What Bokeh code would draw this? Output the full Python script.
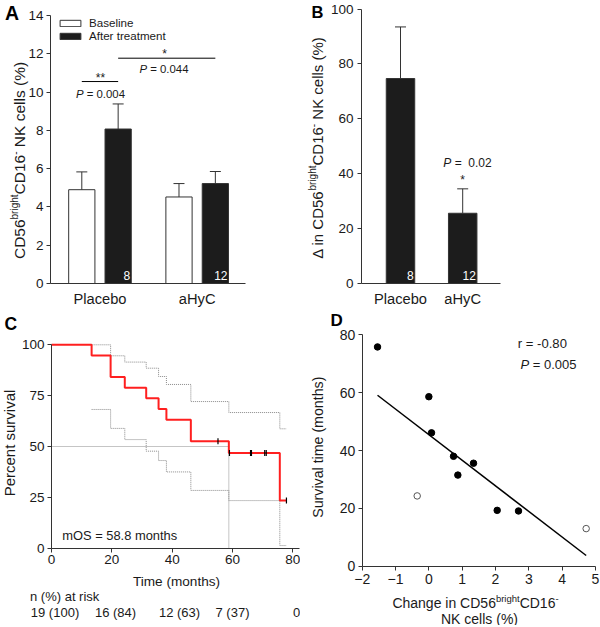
import numpy as np
from bokeh.plotting import figure
from bokeh.models import (Label, Legend, LegendItem, FixedTicker, Range1d, Whisker,
                          ColumnDataSource, TeeHead)
from bokeh.layouts import row, column
from bokeh.embed import file_html
from bokeh.resources import INLINE
from bokeh.core.properties import value

S = 1.0
FONT = "Liberation Sans"
TXT = "#1a1a1a"
AX = "#333333"

# ---------------- data ----------------
groups = ["Placebo", "aHyC"]
baseline_mean = [4.90, 4.52]
baseline_upper = [5.83, 5.22]
after_mean = [8.07, 5.22]
after_upper = [9.38, 5.85]
group_n = ["8", "12"]
y_ticks_a = [0, 2, 4, 6, 8, 10, 12, 14]
sig_levels_a = [10.55, 11.77]

delta_mean = [74.7, 25.6]
delta_upper = [93.5, 34.5]
y_ticks_b = [0, 20, 40, 60, 80, 100]

km_time = [0, 13.3, 19.6, 24.3, 31.4, 35.5, 38.1, 46.2, 58.8, 75.7, 77.8]
km_surv = [100, 94.7, 84.2, 78.9, 73.7, 68.4, 63.2, 52.6, 46.8, 23.4, 23.4]
ci_time = [13.3, 19.6, 24.3, 31.4, 35.5, 38.1, 46.2, 58.8, 75.7, 77.8]
ci_upper = [100, 94.6, 91.5, 88.5, 84.4, 80.5, 72.1, 66.7, 58.7, 58.7]
ci_lower = [68.2, 58.9, 53.4, 47.7, 43.1, 37.5, 28.4, 23.4, 1.3, 1.3]
censor_time = [55.2, 59.0, 66.0, 66.3, 70.7, 71.2, 77.9]
censor_surv = [52.6, 46.8, 46.8, 46.8, 46.8, 46.8, 23.4]
median_os = 58.8
x_ticks_c = [0, 20, 40, 60, 80]
y_ticks_c = [0, 25, 50, 75, 100]
risk_labels = ["19 (100)", "16 (84)", "12 (63)", "7 (37)", "0"]

chg_filled = [-1.54, 0.00, 0.08, 0.74, 0.87, 1.34, 2.05, 2.69]
surv_filled = [75.8, 58.6, 46.1, 38.0, 31.5, 35.6, 19.3, 19.1]
chg_open = [-0.35, 4.72]
surv_open = [24.3, 13.0]
fit_x = [-1.54, 4.72]
fit_y = [59.1, 3.7]
x_ticks_d = [-2, -1, 0, 1, 2, 3, 4, 5]
y_ticks_d = [0, 20, 40, 60, 80]

# ---------------- text helpers ----------------
_W = {' ': 278, '!': 278, '%': 889, '(': 333, ')': 333, '*': 389, '+': 584, ',': 278,
      '-': 333, '.': 278, '/': 278, ':': 278, '=': 584, 'Δ': 668}
for _c in "0123456789":
    _W[_c] = 556
_W.update(dict(zip("ABCDEFGHIJKLMNOPQRSTUVWXYZ",
                   [667, 667, 722, 722, 667, 611, 778, 722, 278, 500, 667, 556, 833,
                    722, 778, 667, 778, 722, 667, 611, 722, 667, 944, 667, 667, 611])))
_W.update(dict(zip("abcdefghijklmnopqrstuvwxyz",
                   [556, 556, 500, 556, 556, 278, 556, 556, 222, 222, 500, 222, 833,
                    556, 556, 556, 556, 333, 500, 278, 556, 500, 722, 500, 500, 500])))


def tw(s, size):
    return sum(_W.get(c, 556) for c in s) / 1000.0 * size


class Pan:
    """Figure box in page pixels."""
    def __init__(self, ox, oy, w, h):
        self.ox, self.oy, self.w, self.h = ox, oy, w, h


def xrange_for(pan, k, v_at, X_at):
    return Range1d(v_at + (pan.ox - X_at) / k, v_at + (pan.ox + pan.w - X_at) / k)


def yrange_for(pan, k, v_at, Y_at):
    return Range1d(v_at - (pan.oy + pan.h - Y_at) / k, v_at + (Y_at - pan.oy) / k)


def make_fig(pan, xr, yr):
    p = figure(width=round(pan.w * S), height=round(pan.h * S), x_range=xr, y_range=yr,
               output_backend="svg", toolbar_location=None,
               min_border_left=0, min_border_right=0, min_border_top=0, min_border_bottom=0)
    p.outline_line_color = None
    p.xgrid.visible = False
    p.ygrid.visible = False
    p.background_fill_color = "white"
    p.border_fill_color = "white"
    return p


def style_axis(ax, ticks, size, fixed, bounds, tick_out=4, standoff=3, overrides=None):
    ax.ticker = FixedTicker(ticks=ticks)
    ax.fixed_location = fixed
    ax.bounds = bounds
    ax.major_tick_out = round(tick_out * S)
    ax.major_tick_in = 0
    ax.minor_tick_out = 0
    ax.minor_tick_in = 0
    ax.axis_line_color = AX
    ax.axis_line_width = 1
    ax.major_tick_line_color = AX
    ax.major_label_text_font = FONT
    ax.major_label_text_font_size = f"{size * S:.1f}px"
    ax.major_label_text_color = TXT
    ax.major_label_standoff = round(standoff * S)
    if overrides is not None:
        ax.major_label_overrides = overrides


def lab(p, pan, X, Y, text, size, align="left", angle=0.0, style="normal", color=TXT):
    # (X, Y) is the visual centre line of the text (middle baseline)
    p.add_layout(Label(x=(X - pan.ox) * S, y=(pan.oy + pan.h - Y) * S,
                       x_units="screen", y_units="screen",
                       text=text, text_font=FONT, text_font_size=f"{size * S:.2f}px",
                       text_font_style=style, text_color=color, text_align=align,
                       text_baseline="middle", angle=angle))


def rich(p, pan, X, Y, parts, align="left", vertical=False):
    # parts: (text, size, style, raise); leading spaces become offsets
    M = max(sz for _, sz, _, _ in parts)
    total = sum(tw(t, sz) for t, sz, st, r in parts)
    off = {"left": 0.0, "center": -total / 2.0, "right": -total}[align]
    for t, sz, st, r in parts:
        body = t.lstrip(" ")
        lead = tw(t[:len(t) - len(body)], sz)
        pos = off + lead
        shift = -r + 0.355 * (M - sz)
        if vertical:
            lab(p, pan, X + shift, Y - pos, body, sz, angle=np.pi / 2, style=st)
        else:
            lab(p, pan, X + pos, Y + shift, body, sz, style=st)
        off += tw(t, sz)


TOP_H = 307
BOT_H = 318

# ================= Panel A =================
panA = Pan(0, 0, 300, TOP_H)
pA = make_fig(panA, xrange_for(panA, 97.2, 0.491, 50), yrange_for(panA, 268 / 14, 0, 283))
gx = np.arange(1, len(groups) + 1, dtype=float)
bw_a, off_a = 0.27, 0.187
xb = gx - off_a
xa = gx + off_a
r_base = pA.vbar(x=xb, top=baseline_mean, width=bw_a, fill_color="white",
                 line_color=AX, line_width=1)
r_after = pA.vbar(x=xa, top=after_mean, width=bw_a, fill_color="#1c1c1c",
                  line_color=AX, line_width=1)
for xs, m, u in ((xb, baseline_mean, baseline_upper), (xa, after_mean, after_upper)):
    src = ColumnDataSource(dict(x=xs, lower=m, upper=u))
    pA.add_layout(Whisker(base="x", lower="lower", upper="upper", source=src, dimension="height",
                          line_color=AX, line_width=1, level="overlay",
                          upper_head=TeeHead(size=11 * S, line_color=AX, line_width=1),
                          lower_head=None))
pA.text(x=xa + bw_a / 2, y=[0, 0], text=group_n, text_align="right", text_baseline="middle",
        x_offset=-1, y_offset=-8 * S, text_color="white", text_font=value(FONT),
        text_font_size=f"{12 * S:.1f}px")
pA.segment(x0=[xb[0], xa[0]], x1=[xa[0], xa[1]], y0=sig_levels_a, y1=sig_levels_a,
           line_color="black", line_width=1)
style_axis(pA.yaxis[0], y_ticks_a, 13.5, fixed=0.491, bounds=(0, 14))
style_axis(pA.xaxis[0], [1, 2], 14.7, fixed=0, bounds=(0.491, 2.497), tick_out=0, standoff=7,
           overrides={i + 1: g for i, g in enumerate(groups)})
leg = Legend(items=[LegendItem(label="Baseline", renderers=[r_base]),
                    LegendItem(label="After treatment", renderers=[r_after])],
             location=(57 * S, (TOP_H - 42) * S), orientation="vertical",
             glyph_width=round(26 * S), glyph_height=round(8 * S), label_standoff=round(6 * S),
             label_text_font=FONT, label_text_font_size=f"{11.6 * S:.1f}px",
             label_text_color=TXT, label_height=round(12 * S), padding=0, margin=0, spacing=0,
             border_line_color=None, background_fill_alpha=0)
pA.add_layout(leg)
lab(pA, panA, 4.5, 12, "A", 19.5, style="bold", color="black")
rich(pA, panA, 19, 160, [("CD56", 15.5, "normal", 0), ("bright", 10, "normal", 6.5),
                         ("CD16", 15.5, "normal", 0), ("-", 10, "normal", 6.5),
                         (" NK cells (%)", 15.5, "normal", 0)], align="center", vertical=True)
lab(pA, panA, 100, 77.7, "**", 12, align="center")
rich(pA, panA, 100, 93, [("P", 11.4, "italic", 0), (" = 0.004", 11.4, "normal", 0)], align="center")
lab(pA, panA, 164, 53.2, "*", 12, align="center")
rich(pA, panA, 163.5, 68, [("P", 11.4, "italic", 0), (" = 0.044", 11.4, "normal", 0)], align="center")

# ================= Panel B =================
panB = Pan(300, 0, 300, TOP_H)
pB = make_fig(panB, xrange_for(panB, 62.2, 1.0, 400), yrange_for(panB, 2.744, 0, 283))
bw_b = 0.458
pB.vbar(x=gx, top=delta_mean, width=bw_b, fill_color="#1c1c1c", line_color=AX, line_width=1)
srcB = ColumnDataSource(dict(x=gx, lower=delta_mean, upper=delta_upper))
pB.add_layout(Whisker(base="x", lower="lower", upper="upper", source=srcB, dimension="height",
                      line_color=AX, line_width=1, level="overlay",
                      upper_head=TeeHead(size=11 * S, line_color=AX, line_width=1),
                      lower_head=None))
pB.text(x=gx + bw_b / 2, y=[0, 0], text=group_n, text_align="right", text_baseline="middle",
        x_offset=-1, y_offset=-8 * S, text_color="white", text_font=value(FONT),
        text_font_size=f"{12 * S:.1f}px")
style_axis(pB.yaxis[0], y_ticks_b, 13.5, fixed=1.0 - 39 / 62.2, bounds=(0, 100), standoff=4)
style_axis(pB.xaxis[0], [1, 2], 14.7, fixed=0, bounds=(1.0 - 39 / 62.2, 1.0 + 100 / 62.2),
           tick_out=0, standoff=7, overrides={i + 1: g for i, g in enumerate(groups)})
lab(pB, panB, 311, 11, "B", 16.5, style="bold", color="black")
rich(pB, panB, 317, 147.5, [("Δ in CD56", 15, "normal", 0), ("bright", 10, "normal", 6.5),
                            ("CD16", 15, "normal", 0), ("-", 10, "normal", 6.5),
                            (" NK cells (%)", 15, "normal", 0)], align="center", vertical=True)
rich(pB, panB, 467, 162, [("P", 12, "italic", 0), (" =", 12, "normal", 0),
                          ("  0.02", 12, "normal", 0)], align="center")
lab(pB, panB, 462, 179.7, "*", 12, align="center")

# ================= Panel C =================
panC = Pan(0, TOP_H, 300, BOT_H)
pC = make_fig(panC, xrange_for(panC, 3.016, 0, 51), yrange_for(panC, 2.034, 0, 547.7))
grey = "#8a8a8a"
pC.segment(x0=[0, median_os], x1=[median_os, median_os], y0=[50, 50], y1=[50, 0],
           line_color=grey, line_width=1, line_dash="1 1")
pC.step(ci_time, ci_upper, mode="after", line_color=grey, line_width=1, line_dash="1 1")
pC.step(ci_time, ci_lower, mode="after", line_color=grey, line_width=1, line_dash="1 1")
pC.step(km_time, km_surv, mode="after", line_color="#ff1f1f", line_width=2 * S)
pC.scatter(censor_time, censor_surv, marker="dash", angle=np.pi / 2, size=6 * S,
           line_color="black", line_width=1.2)
style_axis(pC.yaxis[0], y_ticks_c, 13.5, fixed=0, bounds=(0, 100))
style_axis(pC.xaxis[0], x_ticks_c, 13.5, fixed=0, bounds=(0, 82.2))
lab(pC, panC, 4, 323, "C", 17.5, style="bold", color="black")
lab(pC, panC, 9, 442.5, "Percent survival", 15, align="center", angle=np.pi / 2)
lab(pC, panC, 176, 581, "Time (months)", 13.6, align="center")
lab(pC, panC, 61.7, 535, "mOS = 58.8 months", 12.9)
lab(pC, panC, 29.5, 596, "n (%) at risk", 13)
for cx, t in zip([54.5, 115, 179, 232, 296], risk_labels):
    lab(pC, panC, cx, 612, t, 13, align="center")

# ================= Panel D =================
panD = Pan(300, TOP_H, 300, BOT_H)
pD = make_fig(panD, xrange_for(panD, 233.3 / 7, -2, 361.7), yrange_for(panD, 231.4 / 80, 0, 565.7))
pD.line(fit_x, fit_y, line_color="black", line_width=1.5)
pD.scatter(chg_filled, surv_filled, marker="circle", size=6.5 * S, fill_color="black",
           line_color="black", line_width=1)
pD.scatter(chg_open, surv_open, marker="circle", size=6.5 * S, fill_color="white",
           line_color="#555555", line_width=1)
style_axis(pD.yaxis[0], y_ticks_d, 14, fixed=-2, bounds=(0, 80))
style_axis(pD.xaxis[0], x_ticks_d, 14, fixed=0, bounds=(-2, 5), standoff=4)
lab(pD, panD, 330, 319.5, "D", 17, style="bold", color="black")
lab(pD, panD, 317, 446.7, "Survival time (months)", 14.2, align="center", angle=np.pi / 2)
rich(pD, panD, 475, 602, [("Change in CD56", 14, "normal", 0), ("bright", 9.5, "normal", 5.5),
                          ("CD16", 14, "normal", 0), ("-", 9.5, "normal", 5.5)], align="center")
lab(pD, panD, 479, 618, "NK cells (%)", 14, align="center")
lab(pD, panD, 517.3, 342.7, "r = -0.80", 13.1)
rich(pD, panD, 520, 364, [("P", 13, "italic", 0), (" = 0.005", 13, "normal", 0)])

layout = column(row(pA, pB), row(pC, pD))
open("out.html", "w").write(file_html(layout, INLINE))
